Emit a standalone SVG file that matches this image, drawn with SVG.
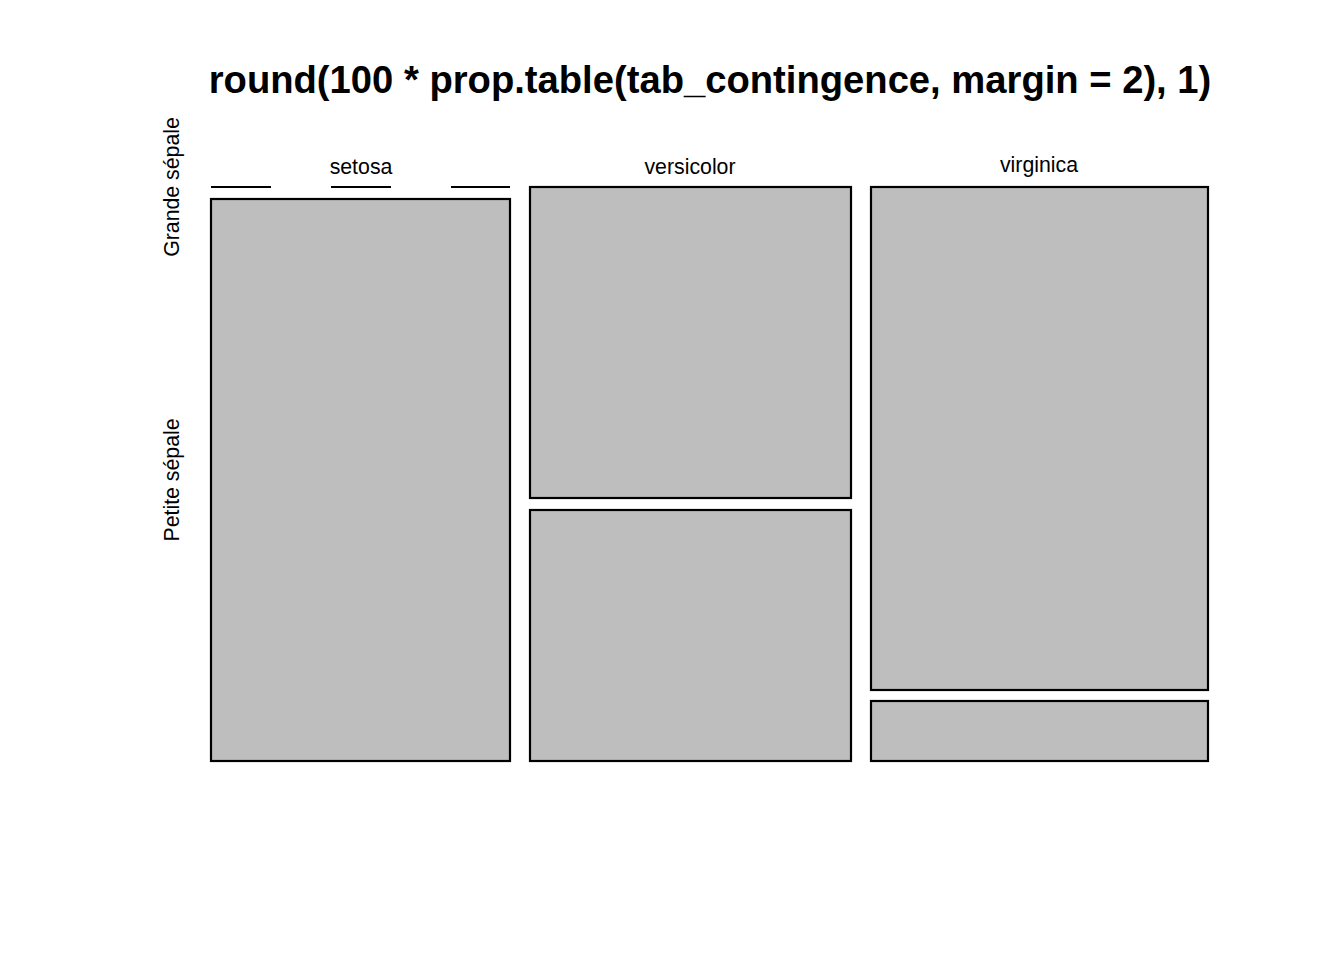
<svg xmlns="http://www.w3.org/2000/svg" width="1344" height="960" viewBox="0 0 1344 960">
<style>
.t{font-family:"Liberation Sans",Arial,sans-serif;fill:#000}
.l{font-size:21.3px}
.c{fill:#bebebe;stroke:#000;stroke-width:2.2}
.d{stroke:#000;stroke-width:2.2;fill:none}
</style>
<rect width="1344" height="960" fill="#fff"/>
<text class="t" x="710" y="93" font-size="38.2" font-weight="bold" text-anchor="middle">round(100 * prop.table(tab_contingence, margin = 2), 1)</text>
<g id="labels">
<text class="t l" x="361" y="174" text-anchor="middle">setosa</text>
<text class="t l" x="690" y="174" text-anchor="middle">versicolor</text>
<text class="t l" x="1039" y="172" text-anchor="middle">virginica</text>
<text class="t l" text-anchor="middle" transform="translate(179,187) rotate(-90)">Grande sépale</text>
<text class="t l" text-anchor="middle" transform="translate(179,480) rotate(-90)">Petite sépale</text>
</g>
<g id="setosa-grande">
<line class="d" x1="211" y1="187" x2="271" y2="187"/>
<line class="d" x1="331" y1="187" x2="391" y2="187"/>
<line class="d" x1="451" y1="187" x2="510" y2="187"/>
</g>
<g id="setosa-petite"><rect class="c" x="211" y="199" width="299" height="562"/></g>
<g id="versicolor-grande"><rect class="c" x="530" y="187" width="321" height="311"/></g>
<g id="versicolor-petite"><rect class="c" x="530" y="510" width="321" height="251"/></g>
<g id="virginica-grande"><rect class="c" x="871" y="187" width="337" height="503"/></g>
<g id="virginica-petite"><rect class="c" x="871" y="701" width="337" height="60"/></g>
</svg>
